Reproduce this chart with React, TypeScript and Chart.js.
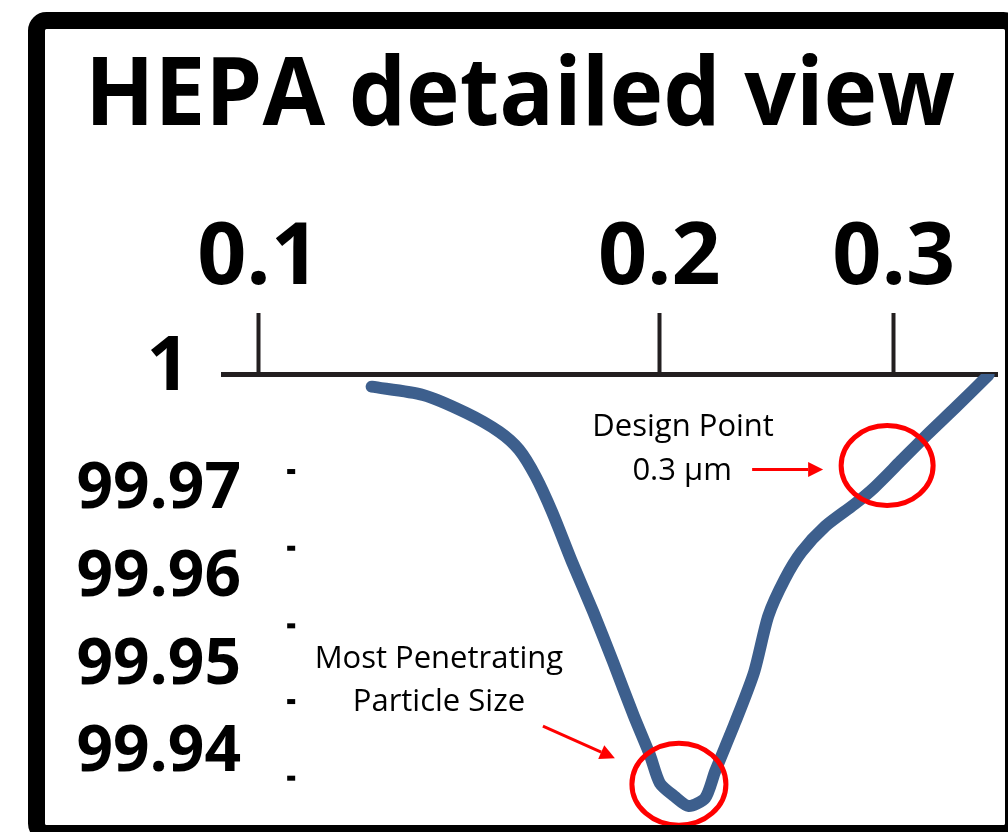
import React, { useEffect, useRef } from 'react';
import { Chart, registerables } from 'chart.js';

Chart.register(...registerables);

// ---- data ----
const TITLE = 'HEPA detailed view';
const X_TICKS = [0.1, 0.2, 0.3];
const Y_TICKS = [99.94, 99.95, 99.96, 99.97];
const Y_TOP_LABEL = '1';
const X_MIN = 0.09403;
const X_MAX = 0.35868;
const Y_MIN = 99.9316;
const Y_MAX = 99.9827;

// particle size (µm) and filtration efficiency (%)
const particleSize = [
  0.1216, 0.1329, 0.1432, 0.1516, 0.1569, 0.1615, 0.1662, 0.172, 0.1784, 0.1846,
  0.1913, 0.1968, 0.2002, 0.2052, 0.2104, 0.2165, 0.2203, 0.2282, 0.2357, 0.2415,
  0.2485, 0.2557, 0.2665, 0.2802, 0.2901, 0.3029, 0.3178, 0.3342, 0.3535,
];
const efficiency = [
  99.98126, 99.98032, 99.97828, 99.97613, 99.97409, 99.97103, 99.96695, 99.96129, 99.95562, 99.94996,
  99.94384, 99.93931, 99.93613, 99.93466, 99.93353, 99.93443, 99.93749, 99.94316, 99.94882, 99.95517,
  99.95936, 99.96242, 99.96537, 99.96786, 99.96978, 99.97262, 99.97579, 99.97896, 99.98259,
];

// small leftover tick dashes
const markerX = [0.1058, 0.1058, 0.1058, 0.1058, 0.1058];
const markerY = [99.9716, 99.96287, 99.95404, 99.94542, 99.9367];

// annotations (anchored in data units)
const DESIGN_POINT = { x: 0.2966, y: 99.97228, lines: ['Design Point', '0.3 µm'] };
const MPPS_POINT = { x: 0.2069, y: 99.93602, lines: ['Most Penetrating', 'Particle Size'] };

const LINE_COLOR = '#3d5f8d';
const AXIS_COLOR = '#231f20';
const RED = '#ff0000';
const Y_FONT = 'bold 64px "Open Sans"';

function arrow(ctx: CanvasRenderingContext2D, x1: number, y1: number, x2: number, y2: number) {
  const ang = Math.atan2(y2 - y1, x2 - x1);
  const head = 15;
  const half = 7.5;
  const bx = x2 - Math.cos(ang) * head;
  const by = y2 - Math.sin(ang) * head;
  ctx.strokeStyle = RED;
  ctx.fillStyle = RED;
  ctx.lineWidth = 3;
  ctx.beginPath();
  ctx.moveTo(x1, y1);
  ctx.lineTo(bx, by);
  ctx.stroke();
  ctx.beginPath();
  ctx.moveTo(x2, y2);
  ctx.lineTo(bx + Math.sin(ang) * half, by - Math.cos(ang) * half);
  ctx.lineTo(bx - Math.sin(ang) * half, by + Math.cos(ang) * half);
  ctx.closePath();
  ctx.fill();
}

const overlayPlugin = {
  id: 'overlay',
  afterDraw(chart: any) {
    const ctx: CanvasRenderingContext2D = chart.ctx;
    const xs = chart.scales.x;
    const ys = chart.scales.y;
    ctx.save();

    // title
    ctx.fillStyle = '#000';
    ctx.font = 'bold 95px "Open Sans"';
    ctx.textBaseline = 'alphabetic';
    ctx.textAlign = 'left';
    const tw = ctx.measureText(TITLE).width;
    ctx.save();
    ctx.translate(85, 125);
    ctx.scale(870 / tw, 1);
    ctx.fillText(TITLE, 0, 0);
    ctx.restore();

    // top "1" label
    ctx.font = 'bold 76px "Open Sans"';
    ctx.textAlign = 'right';
    ctx.textBaseline = 'middle';
    ctx.fillText(Y_TOP_LABEL, 190, ys.getPixelForValue(Y_MAX) - 6);

    // annotations
    ctx.font = '31px "Open Sans"';
    ctx.textAlign = 'center';
    ctx.textBaseline = 'alphabetic';
    ctx.fillStyle = '#000';

    const dx = xs.getPixelForValue(DESIGN_POINT.x);
    const dy = ys.getPixelForValue(DESIGN_POINT.y);
    ctx.fillText(DESIGN_POINT.lines[0], dx - 204, dy - 30);
    ctx.fillText(DESIGN_POINT.lines[1], dx - 205, dy + 14);
    ctx.strokeStyle = RED;
    ctx.lineWidth = 5;
    ctx.beginPath();
    ctx.ellipse(dx, dy, 46, 40, 0, 0, Math.PI * 2);
    ctx.stroke();
    arrow(ctx, dx - 135, dy + 4, dx - 64, dy + 4);

    const mx = xs.getPixelForValue(MPPS_POINT.x);
    const my = ys.getPixelForValue(MPPS_POINT.y);
    ctx.fillStyle = '#000';
    ctx.fillText(MPPS_POINT.lines[0], mx - 240, my - 116);
    ctx.fillText(MPPS_POINT.lines[1], mx - 240, my - 73);
    ctx.strokeStyle = RED;
    ctx.lineWidth = 5;
    ctx.beginPath();
    ctx.ellipse(mx, my, 47, 41, 0, 0, Math.PI * 2);
    ctx.stroke();
    arrow(ctx, mx - 136, my - 58, mx - 64, my - 26);

    // frame
    ctx.strokeStyle = '#000';
    ctx.lineWidth = 17;
    ctx.beginPath();
    (ctx as any).roundRect(36.5, 20.5, 977, 813, 10);
    ctx.stroke();

    ctx.restore();
  },
};

export default function App() {
  const ref = useRef<HTMLCanvasElement>(null);

  useEffect(() => {
    if (!ref.current) return;
    // widest y label, so mirrored right-aligned labels end 18px inside the area
    const mctx = document.createElement('canvas').getContext('2d') as CanvasRenderingContext2D;
    mctx.font = Y_FONT;
    const widest = Math.max(...Y_TICKS.map((v) => mctx.measureText(v.toFixed(2)).width));

    const chart = new Chart(ref.current, {
      type: 'line',
      data: {
        datasets: [
          {
            data: particleSize.map((x, i) => ({ x, y: efficiency[i] })),
            borderColor: LINE_COLOR,
            borderWidth: 12,
            pointRadius: 0,
            tension: 0.25,
            borderCapStyle: 'round',
            borderJoinStyle: 'round',
            fill: false,
          },
          {
            data: markerX.map((x, i) => ({ x, y: markerY[i] })),
            showLine: false,
            pointStyle: 'line',
            pointRadius: 4,
            pointBorderWidth: 5,
            pointBorderColor: '#000',
            pointBackgroundColor: '#000',
          },
        ],
      },
      options: {
        responsive: false,
        animation: false,
        layout: { padding: { top: 0, left: 0, right: 11, bottom: 7 } },
        plugins: {
          legend: { display: false },
          title: { display: false },
          tooltip: { enabled: false },
        },
        scales: {
          x: {
            type: 'logarithmic',
            position: 'top',
            min: X_MIN,
            max: X_MAX,
            afterBuildTicks: (s: any) => {
              s.ticks = X_TICKS.map((v) => ({ value: v }));
            },
            afterFit: (s: any) => {
              s.height = 374;
            },
            ticks: {
              autoSkip: false,
              maxRotation: 0,
              color: '#000',
              padding: 2,
              font: { family: '"Open Sans"', weight: 'bold', size: 86 },
              callback: (v: any) => String(v),
            },
            grid: {
              display: true,
              drawOnChartArea: false,
              drawTicks: true,
              tickLength: 61,
              tickWidth: 4,
              tickColor: AXIS_COLOR,
              color: AXIS_COLOR,
            },
            border: { display: true, color: AXIS_COLOR, width: 5 },
          },
          y: {
            type: 'linear',
            position: 'left',
            min: Y_MIN,
            max: Y_MAX,
            afterBuildTicks: (s: any) => {
              s.ticks = Y_TICKS.map((v) => ({ value: v }));
            },
            afterFit: (s: any) => {
              s.width = 223;
            },
            ticks: {
              color: '#000',
              mirror: true,
              crossAlign: 'far',
              padding: 18 - widest,
              labelOffset: 4,
              font: { family: '"Open Sans"', weight: 'bold', size: 64 },
              callback: (v: any) => Number(v).toFixed(2),
            },
            grid: { display: false, drawTicks: false },
            border: { display: false },
          },
        },
      },
      plugins: [overlayPlugin],
    } as any);
    return () => chart.destroy();
  }, []);

  return (
    <div style={{ position: 'absolute', left: 0, top: 0, width: 1008, height: 832, background: '#fff' }}>
      <canvas ref={ref} width={1008} height={832} />
    </div>
  );
}
